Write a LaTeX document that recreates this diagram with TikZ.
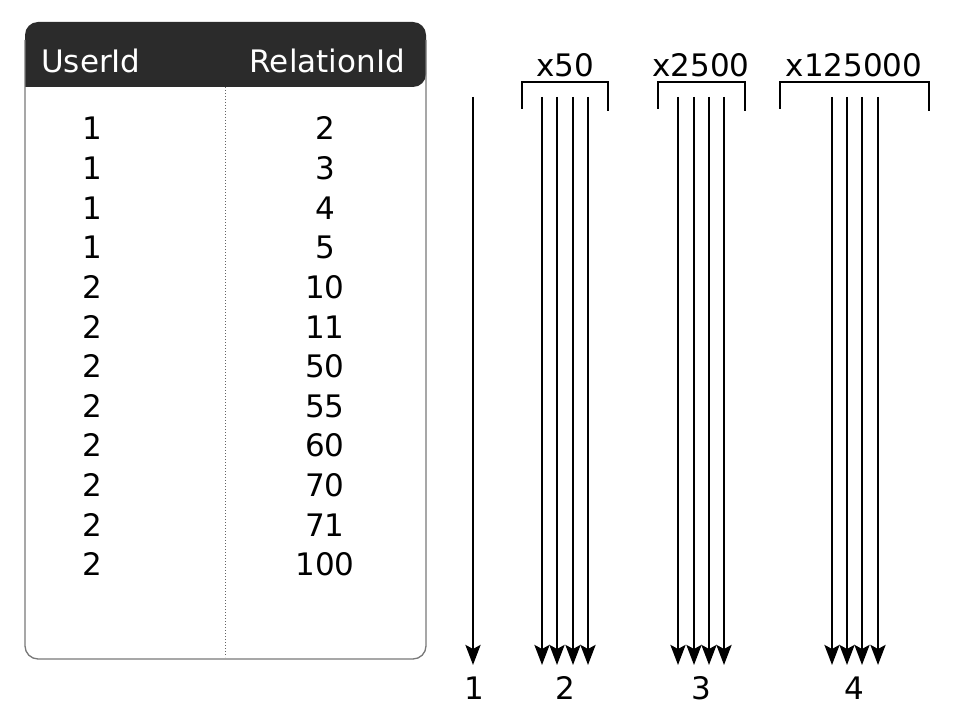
\documentclass[tikz,border=0pt]{standalone}
\usepackage{fontspec}
\setmainfont{DejaVu Sans}
\usetikzlibrary{arrows.meta}
\begin{document}
\begin{tikzpicture}[x=1pt,y=-1pt,
  txt/.style={anchor=base,inner sep=0pt,font=\fontsize{31}{36}\selectfont},
  hdr/.style={txt,text=white},
  arr/.style={line width=2.8pt,-{Stealth[length=20pt,width=15pt,inset=4pt]}},
  brk/.style={line width=2.8pt}]
\useasboundingbox (0,0) rectangle (960,722);
% table
\fill[white] (25,22) rectangle (426,659);
\fill[fill={rgb,255:red,43;green,43;blue,43},rounded corners=13pt] (25,87) -- (25,22) -- (426,22) -- (426,87) [sharp corners] -- cycle;
\draw[line width=1.3pt,draw={rgb,255:red,120;green,120;blue,120},rounded corners=13pt] (25,40) -- (25,659) -- (426,659) -- (426,40);
\draw[dotted,line width=1pt,draw={rgb,255:red,100;green,100;blue,100}] (225,87) -- (225,657);
\node[hdr,anchor=base west] (h1) at (41,73) {UserId};
\node[hdr,anchor=base east] (h2) at (405,73) {RelationId};
\foreach \u/\r [count=\i from 0] in {1/2,1/3,1/4,1/5,2/10,2/11,2/50,2/55,2/60,2/70,2/71,2/100}{
  \node[txt] (u\i) at (92,{140+39.6*\i}) {\u};
  \node[txt] (r\i) at (325,{140+39.6*\i}) {\r};
}
% arrows
\coordinate (a1t) at (473,97); \coordinate (a1b) at (473,665);
\draw[arr] (a1t) -- (a1b);
\foreach \x [count=\j] in {542,557,573,588}{
  \coordinate (b\j t) at (\x,97); \coordinate (b\j b) at (\x,665);
  \draw[arr] (b\j t) -- (b\j b);
}
\foreach \x [count=\j] in {678,694,709,724}{
  \coordinate (c\j t) at (\x,97); \coordinate (c\j b) at (\x,665);
  \draw[arr] (c\j t) -- (c\j b);
}
\foreach \x [count=\j] in {832,847,862,878}{
  \coordinate (d\j t) at (\x,97); \coordinate (d\j b) at (\x,665);
  \draw[arr] (d\j t) -- (d\j b);
}
% brackets
\draw[brk] (522,109) -- (522,82) -- (608,82) -- (608,111);
\draw[brk] (658,109) -- (658,82) -- (745,82) -- (745,111);
\draw[brk] (780,109) -- (780,82) -- (929,82) -- (929,111);
\node[txt] (m2) at (565,77) {x50};
\node[txt] (m3) at (701,77) {x2500};
\node[txt] (m4) at (854,77) {x125000};
\node[txt] (l1) at (474,699) {1};
\node[txt] (l2) at (565,699) {2};
\node[txt] (l3) at (701,699) {3};
\node[txt] (l4) at (854,699) {4};
\end{tikzpicture}
\end{document}
